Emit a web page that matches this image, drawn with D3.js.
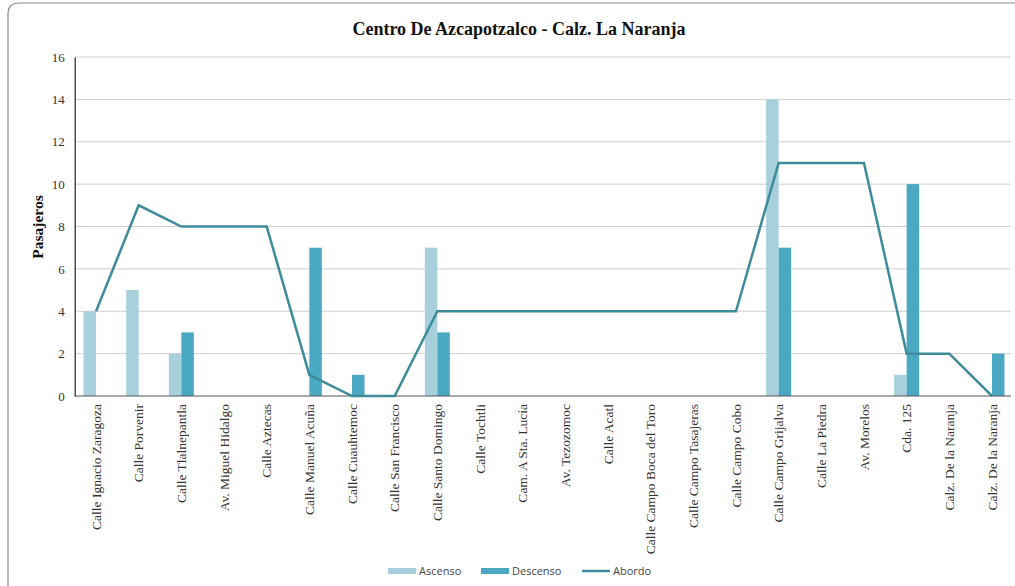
<!DOCTYPE html>
<html>
<head>
<meta charset="utf-8">
<script src="https://cdn.jsdelivr.net/npm/d3@7"></script>
<style>
  html, body { margin: 0; padding: 0; background: #fff; }
  svg { display: block; }
</style>
</head>
<body>
<svg id="chart" width="1015" height="586"></svg>
<script>
// Stops along the route
const categories = [
  "Calle Ignacio Zaragoza", "Calle Porvenir", "Calle Tlalnepantla", "Av. Miguel Hidalgo",
  "Calle Aztecas", "Calle Manuel Acuña", "Calle Cuauhtemoc", "Calle San Francisco",
  "Calle Santo Domingo", "Calle Tochtli", "Cam. A Sta. Lucía", "Av. Tezozomoc",
  "Calle Acatl", "Calle Campo Boca del Toro", "Calle Campo Tasajeras", "Calle Campo Cobo",
  "Calle Campo Grijalva", "Calle La Piedra", "Av. Morelos", "Cda. 125",
  "Calz. De la Naranja", "Calz. De la Naranja"
];
// Passengers boarding, alighting and on board at each stop
const ascenso  = [4, 5, 2, 0, 0, 0, 0, 0, 7, 0, 0, 0, 0, 0, 0, 0, 14, 0, 0, 1, 0, 0];
const descenso = [0, 0, 3, 0, 0, 7, 1, 0, 3, 0, 0, 0, 0, 0, 0, 0, 7, 0, 0, 10, 0, 2];
const abordo   = [4, 9, 8, 8, 8, 1, 0, 0, 4, 4, 4, 4, 4, 4, 4, 4, 11, 11, 11, 2, 2, 0];
const yTicks   = [0, 2, 4, 6, 8, 10, 12, 14, 16];
const seriesNames = ["Ascenso", "Descenso", "Abordo"];

const colors = { Ascenso: "#a7cfdc", Descenso: "#4aa8c2", Abordo: "#3d8b9b" };
const serif = "'Liberation Serif', 'Times New Roman', serif";

const svg = d3.select("#chart");
const W = 1015, H = 586;
const plot = { left: 74.7, right: 1013.3, top: 57, bottom: 396 };

// Outer frame
svg.append("path")
  .attr("d", `M8,${H + 5} L8,14 Q8,3 19,3 L${W + 5},3`)
  .attr("fill", "none").attr("stroke", "#8a8a8a").attr("stroke-width", 1.2);

const idx = categories.map((d, i) => i);
const x = d3.scaleBand().domain(idx).range([plot.left, plot.right]).paddingInner(0.414).paddingOuter(0.207);
const xSub = d3.scaleBand().domain(["Ascenso", "Descenso"]).range([0, x.bandwidth()]);
const y = d3.scaleLinear().domain([0, 16]).range([plot.bottom, plot.top]);
const cx = i => x(i) + x.bandwidth() / 2;

// Gridlines
svg.append("g").selectAll("line").data(yTicks.filter(t => t > 0)).join("line")
  .attr("x1", plot.left).attr("x2", 1011)
  .attr("y1", d => y(d)).attr("y2", d => y(d))
  .attr("stroke", "#cfcfcf").attr("stroke-width", 1);

// Y axis
const yAxis = d3.axisLeft(y).tickValues(yTicks).tickSize(0).tickPadding(10);
const gy = svg.append("g").attr("transform", `translate(${plot.left},0)`).call(yAxis);
gy.attr("font-family", null);
gy.select(".domain").attr("stroke", "#222").attr("stroke-width", 1.2);
gy.selectAll("text").style("font-family", serif).style("font-size", "13px").attr("fill", "#333");

// Bars
const barData = [];
idx.forEach(i => {
  barData.push({ i, key: "Ascenso", v: ascenso[i] });
  barData.push({ i, key: "Descenso", v: descenso[i] });
});
svg.append("g").selectAll("rect").data(barData.filter(d => d.v > 0)).join("rect")
  .attr("x", d => x(d.i) + xSub(d.key))
  .attr("width", xSub.bandwidth())
  .attr("y", d => y(d.v))
  .attr("height", d => y(0) - y(d.v))
  .attr("fill", d => colors[d.key]);

// X axis
const xAxis = d3.axisBottom(x).tickSize(0).tickPadding(0).tickFormat(i => categories[i]);
const gx = svg.append("g").attr("transform", `translate(0,${plot.bottom})`).call(xAxis);
gx.attr("font-family", null);
gx.select(".domain").attr("stroke", "#555").attr("stroke-width", 1.2)
  .attr("d", `M${plot.left},0H1011`);
gx.selectAll("text")
  .style("font-family", serif).style("font-size", "13.5px").attr("fill", "#333")
  .attr("text-anchor", "end")
  .attr("transform", "rotate(-90)")
  .attr("x", -8).attr("y", 0).attr("dy", "0.35em");

// Abordo line
const line = d3.line().x((d, i) => cx(i)).y(d => y(d));
svg.append("path").datum(abordo)
  .attr("d", line)
  .attr("fill", "none").attr("stroke", colors.Abordo).attr("stroke-width", 2.5)
  .attr("stroke-linejoin", "miter");

// Title
svg.append("text").attr("x", 519).attr("y", 35).attr("text-anchor", "middle")
  .style("font-family", serif).attr("font-weight", "bold").style("font-size", "18px")
  .attr("fill", "#111").text("Centro De Azcapotzalco - Calz. La Naranja");

// Y axis title
svg.append("text").attr("transform", "translate(43,227) rotate(-90)").attr("text-anchor", "middle")
  .style("font-family", serif).attr("font-weight", "bold").style("font-size", "15.5px")
  .attr("fill", "#111").text("Pasajeros");

// Legend
const legendX = { Ascenso: 388, Descenso: 481, Abordo: 582 };
const lg = svg.append("g");
seriesNames.forEach(name => {
  const x0 = legendX[name];
  if (name === "Abordo") {
    lg.append("line").attr("x1", x0).attr("x2", x0 + 28).attr("y1", 571).attr("y2", 571)
      .attr("stroke", colors[name]).attr("stroke-width", 2.5);
  } else {
    lg.append("rect").attr("x", x0).attr("y", 568).attr("width", 28).attr("height", 6)
      .attr("fill", colors[name]);
  }
  lg.append("text").attr("x", x0 + 31).attr("y", 575)
    .style("font-family", "'Open Sans', sans-serif").style("font-size", "11px").attr("fill", "#444")
    .text(name);
});
</script>
</body>
</html>
